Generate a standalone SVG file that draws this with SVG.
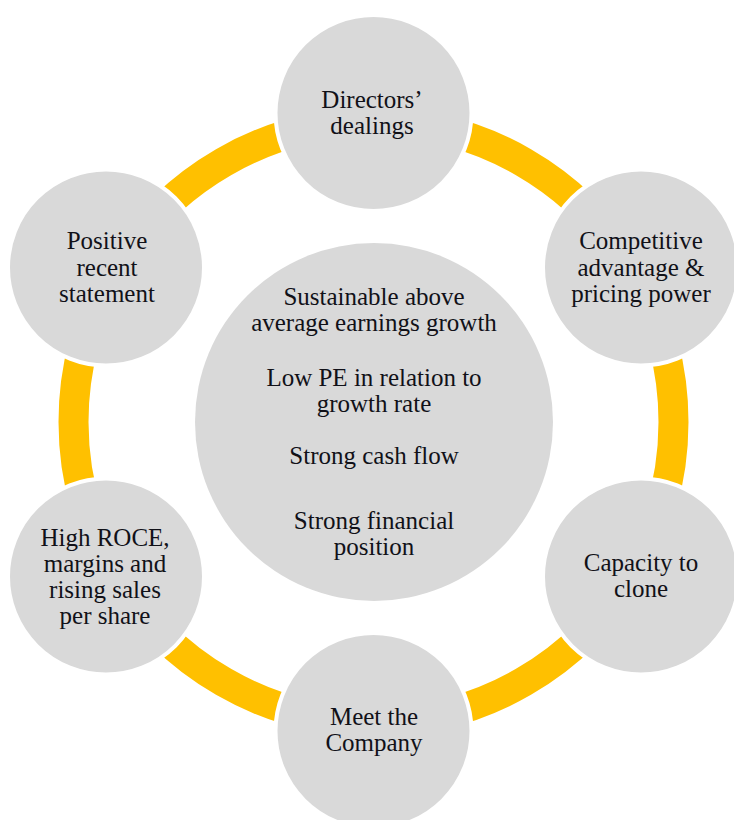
<svg xmlns="http://www.w3.org/2000/svg" width="734" height="820" viewBox="0 0 734 820">
<style>
.ring{fill:none;stroke:#FFC000;stroke-width:30}
.node{fill:#D9D9D9;stroke:#FFFFFF;stroke-width:4}
.center{fill:#D9D9D9}
text{font-family:"Liberation Serif","Times New Roman",serif;font-size:25px;fill:#111118;text-anchor:middle}
</style>
<rect width="734" height="820" fill="#FFFFFF"/>
<g id="connectors">
<path class="ring" d="M373.5,122 A300,300 0 0 1 633.3,272"/>
<path class="ring" d="M633.3,272 A300,300 0 0 1 633.3,572"/>
<path class="ring" d="M633.3,572 A300,300 0 0 1 373.5,722"/>
<path class="ring" d="M373.5,722 A300,300 0 0 1 113.7,572"/>
<path class="ring" d="M113.7,572 A300,300 0 0 1 113.7,272"/>
<path class="ring" d="M113.7,272 A300,300 0 0 1 373.5,122"/>
</g>
<g id="center-node">
<circle class="center" cx="374" cy="422" r="179"/>
<text x="374" y="305">Sustainable above</text>
<text x="374" y="331">average earnings growth</text>
<text x="374" y="386">Low PE in relation to</text>
<text x="374" y="412">growth rate</text>
<text x="374" y="464">Strong cash flow</text>
<text x="374" y="529">Strong financial</text>
<text x="374" y="555">position</text>
</g>
<g id="directors-dealings">
<circle class="node" cx="373.5" cy="113" r="98"/>
<text x="372" y="108">Directors’</text>
<text x="372" y="134">dealings</text>
</g>
<g id="competitive-advantage">
<circle class="node" cx="641" cy="267.5" r="98"/>
<text x="641" y="249">Competitive</text>
<text x="641" y="276">advantage &amp;</text>
<text x="641" y="302">pricing power</text>
</g>
<g id="capacity-to-clone">
<circle class="node" cx="641" cy="576.5" r="98"/>
<text x="641" y="571">Capacity to</text>
<text x="641" y="597">clone</text>
</g>
<g id="meet-the-company">
<circle class="node" cx="373.5" cy="731" r="98"/>
<text x="374" y="725">Meet the</text>
<text x="374" y="751">Company</text>
</g>
<g id="high-roce">
<circle class="node" cx="106" cy="576.5" r="98"/>
<text x="105" y="546">High ROCE,</text>
<text x="105" y="572">margins and</text>
<text x="105" y="598">rising sales</text>
<text x="105" y="624">per share</text>
</g>
<g id="positive-recent-statement">
<circle class="node" cx="106" cy="267.5" r="98"/>
<text x="107" y="249">Positive</text>
<text x="107" y="276">recent</text>
<text x="107" y="302">statement</text>
</g>
</svg>
